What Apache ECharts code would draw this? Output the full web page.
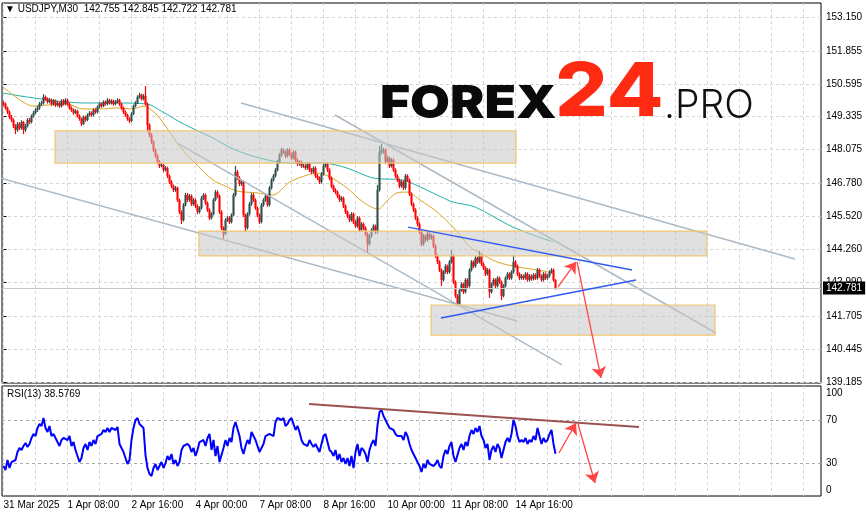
<!DOCTYPE html>
<html>
<head>
<meta charset="utf-8">
<title>USDJPY M30</title>
<script src="https://cdn.jsdelivr.net/npm/echarts@6/dist/echarts.min.js"></script>
<style>
  html, body { margin: 0; padding: 0; background: #fff; }
  #chart { width: 866px; height: 517px; }
</style>
</head>
<body>
<div id="chart"></div>
<script>
// ---- axis ticks and labels ----
const priceTicks = [153.150, 151.855, 150.595, 149.335, 148.075, 146.780, 145.520, 144.260, 142.990, 141.705, 140.445, 139.185];
const rsiLabelTicks = [0, 30, 70, 100];
const rsiLevels = [30, 70];
const dateTicks = [0, 32, 64, 96, 128, 160, 192, 224, 256];
const dateLabels = ['31 Mar 2025', '1 Apr 08:00', '2 Apr 16:00', '4 Apr 00:00', '7 Apr 08:00', '8 Apr 16:00', '10 Apr 00:00', '11 Apr 08:00', '14 Apr 16:00'];

const headerText = '\u25BC USDJPY,M30  142.755 142.845 142.722 142.781';
const rsiTitle = 'RSI(13) 38.5769';
const lastPrice = 142.781;

// ---- hourly bars (bar index = hour since 31 Mar 00:00 on the trading axis) ----
const firstOpen = 149.86;
const closes = [
  149.82,149.67,149.51,149.32,149.21,148.98,148.83,149.06,148.90,149.13,
  148.83,148.98,149.21,149.13,149.36,149.48,149.59,149.67,149.82,149.86,
  150.09,150.01,149.90,149.97,149.82,149.94,149.78,149.86,149.74,149.94,
  149.82,149.97,149.82,149.67,149.59,149.48,149.55,149.36,149.25,149.06,
  149.32,149.21,149.40,149.48,149.40,149.59,149.51,149.71,149.82,149.74,
  149.90,149.82,149.97,149.86,149.94,149.82,149.90,149.97,149.82,149.67,
  149.51,149.40,149.25,149.17,149.44,149.74,149.86,150.09,150.17,150.01,
  150.13,149.82,149.02,148.63,148.37,148.06,147.83,147.60,147.45,147.49,
  147.30,147.37,147.07,146.84,146.68,146.53,146.61,146.15,145.69,145.38,
  145.96,146.34,146.15,146.30,145.99,146.15,145.92,145.69,145.84,146.22,
  146.34,146.03,145.77,145.46,145.61,146.15,146.45,146.30,145.69,145.08,
  144.85,145.38,145.46,145.31,145.57,146.34,147.22,146.99,146.76,146.84,
  145.57,145.08,145.61,145.99,146.34,146.15,145.84,145.57,145.31,145.96,
  146.15,146.30,145.96,146.61,146.91,147.07,147.30,147.60,147.87,148.06,
  147.98,147.83,148.06,147.91,147.75,147.98,147.68,147.53,147.60,147.45,
  147.45,147.37,147.53,147.30,147.22,147.37,147.07,146.99,146.84,147.14,
  147.45,147.53,147.30,146.99,146.68,146.53,146.45,146.30,146.15,146.22,
  145.92,145.69,145.54,145.38,145.61,145.31,145.15,145.46,145.00,145.23,
  145.08,144.85,144.46,144.77,145.00,145.15,144.92,146.53,147.98,148.06,
  148.06,147.60,147.75,147.45,147.68,147.30,147.07,146.91,146.68,146.84,
  146.61,147.07,146.91,146.38,145.99,145.77,145.46,145.23,144.92,144.46,
  144.77,144.62,144.85,144.69,144.77,144.39,144.01,143.78,143.47,143.09,
  143.39,143.62,143.39,143.78,144.01,143.01,142.48,142.17,142.70,142.93,
  142.63,143.09,142.86,143.47,143.78,143.62,143.93,143.78,144.01,143.70,
  143.55,143.32,143.47,142.63,142.93,143.09,142.86,143.16,143.01,142.48,
  142.86,143.16,143.32,143.16,143.39,143.78,143.62,143.32,143.16,143.24,
  143.16,143.32,143.09,143.24,143.13,143.28,143.16,143.47,143.24,143.09,
  143.32,143.16,143.24,143.39,143.47,143.09,142.78
];
const highs = [
  149.94,149.88,149.72,149.58,149.40,149.27,149.05,149.13,149.12,149.20,
  149.17,149.06,149.28,149.29,149.42,149.55,149.66,149.75,149.90,149.94,
  150.20,150.15,150.07,150.05,150.03,150.01,149.99,149.93,149.91,150.00,
  150.01,150.04,150.03,149.88,149.73,149.65,149.62,149.60,149.42,149.30,
  149.38,149.37,149.46,149.55,149.54,149.65,149.66,149.77,149.89,149.88,
  149.96,149.95,150.04,150.02,150.00,149.99,149.97,150.04,150.02,149.87,
  149.72,149.57,149.45,149.31,149.50,149.80,149.93,150.15,150.25,150.22,
  150.20,150.51,149.88,149.08,148.70,148.44,148.12,147.90,147.68,147.57,
  147.56,147.45,147.42,147.12,146.91,146.74,146.68,146.66,146.20,145.75,
  146.03,146.42,146.42,146.38,146.36,146.22,146.21,145.98,145.91,146.30,
  146.41,146.40,146.09,145.83,145.68,146.22,146.53,146.52,146.36,145.75,
  145.14,145.45,145.53,145.53,145.64,146.42,147.45,147.30,147.06,146.92,
  146.90,145.63,145.68,146.07,146.42,146.41,146.21,145.90,145.63,146.03,
  146.22,146.38,146.36,146.68,146.98,147.14,147.37,147.68,147.95,148.14,
  148.12,148.04,148.13,148.12,147.97,148.05,148.04,147.74,147.67,147.66,
  147.53,147.52,147.60,147.59,147.37,147.44,147.43,147.14,147.05,147.21,
  147.53,147.60,147.58,147.36,147.05,146.74,146.60,146.51,146.36,146.29,
  146.28,145.98,145.75,145.60,145.68,145.67,145.37,145.53,145.52,145.30,
  145.29,145.14,144.91,144.84,145.07,145.22,145.21,146.72,148.21,148.29,
  148.14,148.12,147.83,147.81,147.75,147.74,147.36,147.13,146.97,146.91,
  146.90,147.14,147.13,146.97,146.44,146.05,145.83,145.52,145.29,144.98,
  144.84,144.83,144.92,144.91,144.84,144.83,144.45,144.07,143.84,143.53,
  143.46,143.69,143.68,143.85,144.23,144.07,143.07,142.54,142.77,143.00,
  142.99,143.16,143.15,143.54,143.85,143.84,144.00,143.99,144.20,144.07,
  143.76,143.61,143.54,143.53,143.00,143.16,143.15,143.23,143.22,143.07,
  142.93,143.23,143.39,143.38,143.46,144.04,143.85,143.68,143.38,143.31,
  143.30,143.39,143.38,143.31,143.30,143.35,143.34,143.55,143.53,143.30,
  143.39,143.38,143.31,143.46,143.54,143.53,143.12
];
const lows = [
  149.74,149.60,149.44,149.25,149.13,148.90,148.67,148.76,148.82,148.84,
  148.67,148.75,148.92,149.05,149.08,149.30,149.42,149.52,149.60,149.75,
  149.80,149.94,149.84,149.85,149.75,149.76,149.71,149.72,149.67,149.69,
  149.76,149.77,149.75,149.60,149.52,149.41,149.43,149.30,149.18,148.98,
  149.02,149.14,149.16,149.34,149.33,149.35,149.45,149.46,149.65,149.68,
  149.70,149.76,149.77,149.80,149.80,149.76,149.77,149.85,149.75,149.60,
  149.44,149.33,149.18,149.09,149.12,149.40,149.69,149.82,150.03,149.95,
  149.96,149.76,148.75,148.55,148.29,147.98,147.75,147.53,147.37,147.40,
  147.22,147.24,146.99,146.76,146.60,146.45,146.46,146.07,145.61,145.23,
  145.32,145.90,146.07,146.08,145.92,145.93,145.84,145.61,145.63,145.78,
  146.15,145.96,145.69,145.38,145.40,145.56,146.10,146.22,145.61,145.00,
  144.66,144.80,145.31,145.23,145.25,145.52,146.28,146.91,146.68,146.69,
  145.50,144.92,145.02,145.55,145.93,146.07,145.77,145.49,145.23,145.25,
  145.89,146.08,145.89,145.90,146.55,146.85,147.01,147.24,147.53,147.80,
  147.91,147.75,147.77,147.84,147.68,147.70,147.60,147.45,147.46,147.38,
  147.38,147.30,147.31,147.22,147.14,147.16,146.99,146.91,146.76,146.78,
  147.08,147.39,147.22,146.91,146.60,146.45,146.37,146.22,146.07,146.08,
  145.84,145.61,145.46,145.30,145.32,145.23,145.07,145.09,144.92,144.94,
  145.00,144.77,144.12,144.40,144.71,144.94,144.84,144.86,146.47,147.90,
  147.92,147.52,147.54,147.37,147.39,147.22,146.99,146.83,146.60,146.62,
  146.53,146.55,146.84,146.30,145.91,145.69,145.38,145.15,144.84,144.38,
  144.40,144.54,144.56,144.62,144.63,144.31,143.93,143.70,143.39,142.86,
  143.03,143.33,143.31,143.33,143.72,142.93,142.40,142.09,142.11,142.64,
  142.55,142.57,142.78,142.80,143.41,143.54,143.56,143.70,143.72,143.62,
  143.47,143.24,143.26,142.40,142.57,142.87,142.78,142.80,142.94,142.32,
  142.42,142.80,143.10,143.09,143.10,143.33,143.55,143.24,143.08,143.10,
  143.09,143.10,143.02,143.03,143.06,143.07,143.09,143.10,143.17,143.02,
  143.03,143.09,143.10,143.18,143.33,143.02,142.72
];

// ---- RSI(13), one value per bar ----
const rsiValues = [
  27.2,23.5,32.8,25.3,30.9,29.1,32.8,40.2,44.0,42.1,
  45.8,48.6,44.9,47.7,53.3,57.0,55.1,62.6,66.3,64.4,
  71.9,62.6,58.8,64.4,55.1,57.0,53.3,49.5,45.8,51.4,
  53.3,55.1,51.4,55.1,45.8,49.5,42.1,36.5,30.9,34.7,
  44.0,47.7,42.1,49.5,45.8,51.4,47.7,55.1,53.3,57.0,
  60.7,58.8,62.6,58.8,62.6,64.4,60.7,63.5,47.7,44.0,
  40.2,34.7,29.1,32.8,51.4,62.6,70.0,71.9,66.3,68.1,
  62.6,37.4,25.3,19.8,17.9,25.3,29.1,23.5,27.2,30.9,
  25.3,30.0,36.5,32.8,38.4,29.1,32.8,27.2,30.9,42.1,
  45.8,44.0,47.7,45.8,40.2,44.0,36.5,42.1,49.5,47.7,
  51.4,45.8,53.3,57.0,42.1,51.4,36.5,45.8,30.9,29.1,
  44.0,51.4,45.8,53.3,49.5,62.6,68.1,66.3,55.1,44.0,
  38.4,45.8,51.4,47.7,58.8,55.1,51.4,45.8,40.2,44.0,
  47.7,55.1,53.3,57.0,58.8,55.1,68.1,71.9,73.7,70.0,
  71.9,64.4,66.3,70.0,71.9,66.3,60.7,64.4,58.8,51.4,
  47.7,49.5,45.8,51.4,47.7,44.9,47.7,44.0,40.2,47.7,
  55.1,57.0,49.5,42.1,40.2,36.5,42.1,32.8,38.4,30.9,
  34.7,29.1,34.7,27.2,36.5,25.3,40.2,47.7,36.5,44.0,
  42.1,38.4,30.9,42.1,47.7,51.4,45.8,65.3,77.4,79.3,
  73.7,70.0,66.3,62.6,64.4,60.7,57.0,55.1,53.3,55.1,
  51.4,58.8,55.1,47.7,42.1,38.4,34.7,30.9,27.2,21.6,
  29.1,25.3,32.8,29.1,30.9,27.2,29.1,32.8,27.2,25.3,
  36.5,42.1,38.4,45.8,49.5,36.5,30.9,29.1,44.0,47.7,
  42.1,49.5,45.8,55.1,60.7,57.0,62.6,58.8,64.4,55.1,
  51.4,44.0,47.7,32.8,42.1,45.8,40.2,47.7,44.0,34.7,
  42.1,49.5,53.3,49.5,57.0,70.0,64.4,55.1,49.5,51.4,
  49.5,53.3,47.7,51.4,49.5,55.1,51.4,62.6,55.1,47.7,
  53.3,49.5,51.4,57.0,60.7,47.7,38.58
];

// ---- moving averages: [bar, price] ----
const maSlow = [[-0.25,150.24],[8.25,150.13],[23.25,149.97],[39.75,149.86],[56.75,149.86],[71.75,149.82],
  [79.75,149.51],[88.25,149.13],[98.25,148.75],[104.75,148.52],[114.75,148.10],[128.25,147.75],[143.25,147.56],
  [159.75,147.56],[171.75,147.37],[184.75,146.99],[199.75,146.91],[208.25,146.65],[216.75,146.34],[224.75,146.07],
  [235.75,145.88],[254.75,145.11],[274.75,144.54]];
const maFast = [[-0.25,150.47],[4.75,150.17],[9.75,149.90],[14.75,149.74],[21.75,149.78],[31.75,149.82],
  [39.75,149.63],[48.25,149.63],[56.75,149.67],[64.75,149.63],[69.75,149.74],[71.75,149.71],[76.75,149.40],
  [81.75,148.90],[88.25,148.18],[96.75,147.49],[104.75,146.91],[109.75,146.72],[116.75,146.49],[126.75,146.42],
  [134.75,146.34],[143.25,146.84],[151.75,147.10],[156.75,147.18],[163.25,147.03],[171.75,146.61],[179.75,146.07],
  [187.25,145.80],[191.75,146.11],[196.75,146.42],[201.75,146.45],[208.25,146.15],[216.75,145.69],[224.75,145.11],
  [233.25,144.35],[238.25,144.12],[246.75,143.78],[256.75,143.59],[266.75,143.47],[274.75,143.36]];

// ---- drawn objects: [bar, price] ----
const zones = [[25.75,148.79,256.25,147.56],[97.75,144.96,351.75,144.01],[213.75,142.13,355.75,140.98]];
const channelLines = [
  [[-1.75,146.99],[256.75,141.52]],
  [[118.75,149.86],[395.75,143.89]],
  [[86.75,148.33],[279.25,139.84]],
  [[165.75,149.40],[356.25,141.06]]
];
const wedgeLines = [
  [[202.25,145.11],[314.25,143.47]],
  [[218.75,141.63],[316.25,143.09]]
];
const priceArrows = [[[277.25,142.82],[286.25,143.78]],[[286.75,143.78],[298.75,139.34]]];
const rsiTrend = [[152.75,84.9],[317.75,63.5]];
const rsiArrows = [[[277.75,39.3],[286.25,67.2]],[[287.25,66.3],[295.75,11.4]]];

// ---- build series data ----
const candles = closes.map((c, i) => [i, i ? closes[i - 1] : firstOpen, c, lows[i], highs[i]]);
const rsiLine = rsiValues.map((v, i) => [i, v]);
const gridSteps = [];
for (let t = 0; t <= 400; t += 16) gridSteps.push(t);

const FONT = '"Liberation Sans", Arial, sans-serif';
const GRID_DASH = { color: '#d4d4d4', type: [3, 3], width: 1 };
const X_MIN = -0.75, X_MAX = 408.75;
const BULL = '#2f4f4f', BEAR = '#ff0000';

const chart = echarts.init(document.getElementById('chart'), null, { renderer: 'canvas' });

const arrowMarks = (pairs) => ({
  silent: true,
  animation: false,
  symbol: ['none', 'arrow'],
  symbolSize: 11,
  label: { show: false },
  lineStyle: { color: '#ff4545', width: 1.3, type: 'solid' },
  emphasis: { disabled: true },
  data: pairs.map(p => [{ coord: p[0] }, { coord: p[1] }])
});

// one bar: wick from low to high, body from open to close
function renderBar(params, api) {
  const i = api.value(0), o = api.value(1), c = api.value(2), l = api.value(3), h = api.value(4);
  const pO = api.coord([i, o]), pC = api.coord([i, c]);
  const pL = api.coord([i, l]), pH = api.coord([i, h]);
  const col = c >= o ? BULL : BEAR;
  const x = pO[0];
  const top = Math.min(pO[1], pC[1]);
  const bot = Math.max(pO[1], pC[1]);
  return {
    type: 'group',
    children: [
      { type: 'line', shape: { x1: x, y1: pH[1], x2: x, y2: pL[1] }, style: { stroke: col, lineWidth: 1.2 } },
      { type: 'rect', shape: { x: x - 1, y: top, width: 2, height: Math.max(bot - top, 1) }, style: { fill: col } }
    ]
  };
}

const option = {
  animation: false,
  backgroundColor: '#ffffff',
  textStyle: { fontFamily: FONT },
  grid: [
    { left: 2, right: 45, top: 3, height: 380, show: true, borderColor: '#000', borderWidth: 1, backgroundColor: '#fff', outerBoundsMode: 'none' },
    { left: 2, right: 45, top: 386, height: 110, show: true, borderColor: '#000', borderWidth: 1, backgroundColor: '#fff', outerBoundsMode: 'none' }
  ],
  xAxis: [
    {
      gridIndex: 0, type: 'value', min: X_MIN, max: X_MAX,
      axisLine: { show: false },
      axisTick: { show: false, customValues: gridSteps },
      axisLabel: { show: false },
      splitLine: { show: true, lineStyle: GRID_DASH }
    },
    {
      gridIndex: 1, type: 'value', min: X_MIN, max: X_MAX,
      axisLine: { show: false },
      axisTick: { show: false, customValues: gridSteps },
      axisLabel: {
        show: true, customValues: dateTicks, align: 'left', margin: 4,
        color: '#000', fontSize: 10, fontFamily: FONT,
        formatter: (v) => dateLabels[dateTicks.indexOf(Math.round(v))] || ''
      },
      splitLine: { show: true, lineStyle: GRID_DASH }
    }
  ],
  yAxis: [
    {
      gridIndex: 0, type: 'value', position: 'right', min: 139.146, max: 153.685,
      axisLine: { show: false },
      axisTick: { show: true, customValues: priceTicks, length: 3, lineStyle: { color: '#000' } },
      axisLabel: {
        show: true, customValues: priceTicks, margin: 5, color: '#000', fontSize: 10, fontFamily: FONT,
        formatter: (v) => v.toFixed(3)
      },
      splitLine: { show: true, lineStyle: GRID_DASH }
    },
    {
      gridIndex: 1, type: 'value', position: 'right', min: -0.70, max: 101.63,
      axisLine: { show: false },
      axisTick: { show: false, customValues: rsiLevels },
      axisLabel: {
        show: true, customValues: rsiLabelTicks, margin: 5, color: '#000', fontSize: 10, fontFamily: FONT,
        formatter: (v) => v === 100 ? '{hi|100}' : (v === 0 ? '{lo|0}' : String(v)),
        rich: {
          hi: { fontSize: 10, fontFamily: FONT, color: '#000', padding: [11, 0, 0, 0] },
          lo: { fontSize: 10, fontFamily: FONT, color: '#000', padding: [0, 0, 9, 0] }
        }
      },
      splitLine: { show: true, lineStyle: { color: '#a8a8a8', type: [3, 3], width: 1 } }
    }
  ],
  series: [
    // moving averages
    {
      type: 'line', name: 'MA slow', xAxisIndex: 0, yAxisIndex: 0, data: maSlow, smooth: 0.3,
      showSymbol: false, silent: true, z: 2, clip: true,
      lineStyle: { color: '#20b2aa', width: 1 }
    },
    {
      type: 'line', name: 'MA fast', xAxisIndex: 0, yAxisIndex: 0, data: maFast, smooth: 0.3,
      showSymbol: false, silent: true, z: 2, clip: true,
      lineStyle: { color: '#daa520', width: 1 }
    },
    // price bars
    {
      type: 'custom', name: 'USDJPY', xAxisIndex: 0, yAxisIndex: 0, data: candles,
      encode: { x: 0, y: [1, 2, 3, 4] }, renderItem: renderBar,
      silent: true, z: 3, clip: true,
      markLine: {
        silent: true, animation: false, symbol: ['none', 'none'],
        lineStyle: { color: '#c8c8c8', type: 'solid', width: 1 },
        emphasis: { disabled: true },
        label: {
          show: true, position: 'end', distance: 2, formatter: lastPrice.toFixed(3),
          color: '#fff', backgroundColor: '#000', padding: [2, 3, 1, 3], fontSize: 10, fontFamily: FONT
        },
        data: [{ yAxis: lastPrice }]
      }
    },
    // channel lines
    ...channelLines.map((seg, k) => ({
      type: 'line', name: 'channel ' + k, xAxisIndex: 0, yAxisIndex: 0, data: seg,
      showSymbol: false, silent: true, z: 3, clip: true,
      lineStyle: { color: '#abbac6', width: 1.5 }
    })),
    // zones
    {
      type: 'custom', name: 'zones', xAxisIndex: 0, yAxisIndex: 0, data: zones,
      encode: { x: [0, 2], y: [1, 3] }, silent: true, z: 4, clip: true,
      renderItem: (params, api) => {
        const a = api.coord([api.value(0), api.value(1)]);
        const b = api.coord([api.value(2), api.value(3)]);
        return {
          type: 'rect',
          shape: { x: a[0], y: a[1], width: b[0] - a[0], height: b[1] - a[1] },
          style: { fill: 'rgba(198,198,198,0.55)', stroke: '#f1c570', lineWidth: 1.2 }
        };
      }
    },
    // wedge lines, with the projected move
    ...wedgeLines.map((seg, k) => ({
      type: 'line', name: 'wedge ' + k, xAxisIndex: 0, yAxisIndex: 0, data: seg,
      showSymbol: false, silent: true, z: 5, clip: true,
      lineStyle: { color: '#2f5bf0', width: 1.5 },
      markLine: k === 0 ? arrowMarks(priceArrows) : undefined
    })),
    // RSI
    {
      type: 'line', name: 'RSI', xAxisIndex: 1, yAxisIndex: 1, data: rsiLine,
      showSymbol: false, silent: true, z: 3, clip: true,
      lineStyle: { color: '#0000ff', width: 2 }
    },
    {
      type: 'line', name: 'RSI trend', xAxisIndex: 1, yAxisIndex: 1, data: rsiTrend,
      showSymbol: false, silent: true, z: 4, clip: true,
      lineStyle: { color: '#9b5252', width: 2 },
      markLine: arrowMarks(rsiArrows)
    }
  ],
  graphic: [
    {
      type: 'text', x: 5, y: 9, silent: true, z: 10,
      style: { text: headerText, font: '10px ' + FONT, fill: '#000', align: 'left', verticalAlign: 'middle' }
    },
    {
      type: 'text', x: 7, y: 394, silent: true, z: 10,
      style: { text: rsiTitle, font: '10px ' + FONT, fill: '#000', align: 'left', verticalAlign: 'middle' }
    },
    {
      type: 'text', x: 380, y: 104, scaleX: 1.12, silent: true, z: 10,
      style: { text: 'FOREX', font: '900 46px Inter, "Open Sans", sans-serif', fill: '#0a0a0a', align: 'left', verticalAlign: 'middle' }
    },
    {
      type: 'text', x: 555, y: 94, scaleX: 1.12, silent: true, z: 10,
      style: { text: '24', font: '800 74px Inter, "Open Sans", sans-serif', fill: '#ff2a12', align: 'left', verticalAlign: 'middle' }
    },
    {
      type: 'text', x: 664, y: 106, silent: true, z: 10,
      style: { text: '.PRO', font: '300 39px Inter, "Open Sans", sans-serif', fill: '#111', align: 'left', verticalAlign: 'middle' }
    }
  ]
};

chart.setOption(option);
</script>
</body>
</html>
